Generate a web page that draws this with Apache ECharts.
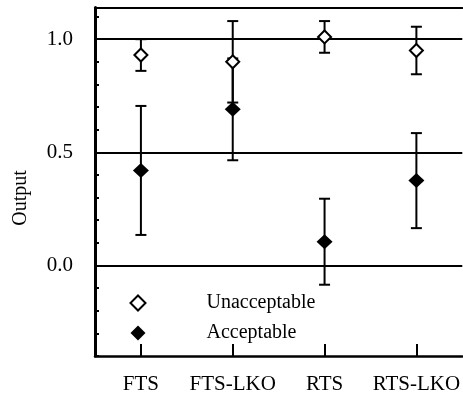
<!DOCTYPE html>
<html>
<head>
<meta charset="utf-8">
<script src="https://cdn.jsdelivr.net/npm/echarts@6/dist/echarts.min.js"></script>
<style>
html,body{margin:0;padding:0;background:#fff;}
#c{width:463px;height:401px;}
</style>
</head>
<body>
<div id="c"></div>
<script>
const categories = ['FTS', 'FTS-LKO', 'RTS', 'RTS-LKO'];
const unaccMean = [0.93, 0.90, 1.01, 0.95];
const unaccErr = [0.07, 0.18, 0.07, 0.105];
const accMean = [0.42, 0.69, 0.105, 0.375];
const accErr = [0.285, 0.225, 0.19, 0.21];
const gridValues = [0.0, 0.5, 1.0];
const labelValues = [0.0, 0.5, 1.0];

const FONT = "'Liberation Serif', 'Times New Roman', serif";

function errData(mean, err) {
  return mean.map((m, i) => [i, m - err[i], m + err[i]]);
}

function renderErr(params, api) {
  const x = api.value(0);
  const pLo = api.coord([x, api.value(1)]);
  const pHi = api.coord([x, api.value(2)]);
  const cap = 5.5;
  const style = { stroke: '#000', lineWidth: 2 };
  return {
    type: 'group',
    children: [
      { type: 'line', shape: { x1: pLo[0], y1: pLo[1], x2: pHi[0], y2: pHi[1] }, style },
      { type: 'line', shape: { x1: pLo[0] - cap, y1: pLo[1], x2: pLo[0] + cap, y2: pLo[1] }, style },
      { type: 'line', shape: { x1: pHi[0] - cap, y1: pHi[1], x2: pHi[0] + cap, y2: pHi[1] }, style }
    ]
  };
}

const chart = echarts.init(document.getElementById('c'), null, { renderer: 'canvas' });
chart.setOption({
  animation: false,
  backgroundColor: '#fff',
  grid: { left: 95, right: 0, top: 7.5, bottom: 45, containLabel: false },
  xAxis: [{
    type: 'category',
    data: categories,
    boundaryGap: true,
    axisLine: { show: true, onZero: false, lineStyle: { color: '#000', width: 2.5 } },
    axisTick: { show: true, inside: true, alignWithLabel: true, interval: 0, length: 12, lineStyle: { color: '#000', width: 2 } },
    axisLabel: { color: '#000', fontFamily: FONT, fontSize: 21, margin: 18, interval: 0 },
    splitLine: { show: false }
  }, {
    type: 'category',
    data: categories,
    position: 'top',
    axisLine: { show: true, onZero: false, lineStyle: { color: '#000', width: 2 } },
    axisTick: { show: false },
    axisLabel: { show: false },
    splitLine: { show: false }
  }],
  yAxis: {
    type: 'value',
    min: -0.4,
    max: 1.14,
    interval: 0.1,
    axisLine: { show: true, onZero: false, lineStyle: { color: '#000', width: 3 } },
    axisTick: { show: true, inside: true, length: 4, lineStyle: { color: '#000', width: 2 } },
    axisLabel: {
      color: '#000', fontFamily: FONT, fontSize: 21, margin: 22,
      formatter: function (v) {
        for (const l of labelValues) { if (Math.abs(v - l) < 1e-6) return l.toFixed(1); }
        return '';
      }
    },
    splitLine: { show: false }
  },
  legend: {
    orient: 'vertical',
    left: 124.5,
    top: 288,
    itemGap: 10,
    itemWidth: 15,
    itemHeight: 15,
    textStyle: { color: '#000', fontFamily: FONT, fontSize: 20, lineHeight: 20, padding: [0, 0, 0, 56] },
    data: ['Unacceptable', 'Acceptable']
  },
  graphic: [{
    type: 'text',
    x: 21, y: 198,
    rotation: Math.PI / 2,
    style: { text: 'Output', fill: '#000', font: '20px ' + FONT, textAlign: 'center', textVerticalAlign: 'middle' }
  }],
  series: [
    {
      name: 'gridlines',
      type: 'line',
      data: [],
      z: 1,
      markLine: {
        silent: true,
        symbol: ['none', 'none'],
        label: { show: false },
        lineStyle: { color: '#000', width: 2, type: 'solid' },
        data: gridValues.map(v => ({ yAxis: v }))
      }
    },
    {
      name: 'errU', type: 'custom', renderItem: renderErr, data: errData(unaccMean, unaccErr), z: 3
    },
    {
      name: 'errA', type: 'custom', renderItem: renderErr, data: errData(accMean, accErr), z: 3
    },
    {
      name: 'Unacceptable', type: 'scatter', symbol: 'diamond', symbolSize: [13, 13], z: 5,
      itemStyle: { color: '#fff', borderColor: '#000', borderWidth: 2, opacity: 1 },
      data: unaccMean.map((m, i) => [i, m])
    },
    {
      name: 'Acceptable', type: 'scatter', symbol: 'diamond', symbolSize: [16, 15], z: 5,
      itemStyle: { color: '#000', opacity: 1 },
      data: accMean.map((m, i) => [i, m])
    }
  ]
});
</script>
</body>
</html>
